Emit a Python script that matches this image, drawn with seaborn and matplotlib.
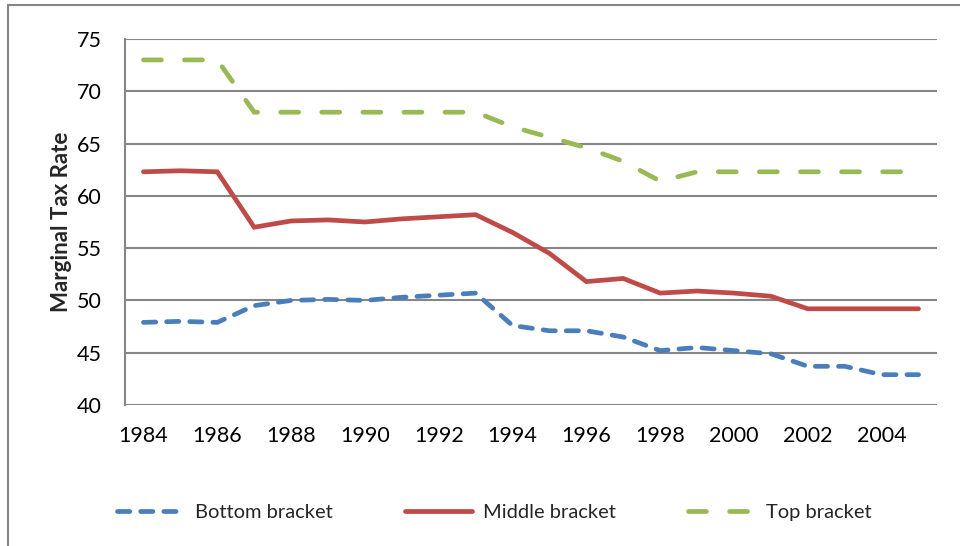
import matplotlib
matplotlib.use("Agg")
import matplotlib.pyplot as plt
import seaborn as sns
import pandas as pd
from matplotlib.patches import Rectangle
from matplotlib.lines import Line2D

years = list(range(1984, 2006))
bottom = [47.9, 48.0, 47.9, 49.5, 50.0, 50.1, 50.0, 50.3, 50.5, 50.7,
          47.6, 47.1, 47.1, 46.5, 45.2, 45.5, 45.2, 44.9, 43.7, 43.7, 42.9, 42.9]
middle = [62.3, 62.4, 62.3, 57.0, 57.6, 57.7, 57.5, 57.8, 58.0, 58.2,
          56.5, 54.5, 51.8, 52.1, 50.7, 50.9, 50.7, 50.4, 49.2, 49.2, 49.2, 49.2]
top = [73.0, 73.0, 73.0, 68.0, 68.0, 68.0, 68.0, 68.0, 68.0, 68.0,
       66.6, 65.6, 64.6, 63.3, 61.4, 62.3, 62.3, 62.3, 62.3, 62.3, 62.3, 62.3]
series_names = ["Bottom bracket", "Middle bracket", "Top bracket"]
yticks = [40, 45, 50, 55, 60, 65, 70, 75]
xticks = list(range(1984, 2005, 2))

df = pd.concat([
    pd.DataFrame({"Year": years, "Rate": vals, "Series": name})
    for name, vals in zip(series_names, [bottom, middle, top])
])

colors = {"Bottom bracket": "#4A7EBB", "Middle bracket": "#BE4B48", "Top bracket": "#98B954"}
dashes = {"Bottom bracket": (2.6, 2.3), "Middle bracket": "", "Top bracket": (3.8, 4.9)}

sns.set_style("white")
plt.rcParams["font.family"] = ["Lato", "DejaVu Sans"]

fig = plt.figure(figsize=(9.6, 5.46), dpi=100)
ax = fig.add_axes([125/960, 1-405/546, (937-125)/960, (405-39)/546])

lw = 3.4
sns.lineplot(data=df, x="Year", y="Rate", hue="Series", style="Series",
             palette=colors, dashes=dashes, linewidth=lw, ax=ax, legend=False)
for ln in ax.lines:
    ln.set_dash_capstyle("round")
    ln.set_solid_capstyle("round")
    ln.set_solid_joinstyle("miter")
    ln.set_dash_joinstyle("miter")

ax.set_xlim(1983.5, 2005.5)
ax.set_ylim(40, 75)
ax.set_yticks(yticks)
ax.set_xticks(xticks)
ax.set_xticklabels([str(x) for x in xticks])
ax.set_yticklabels([str(y) for y in yticks])
ax.tick_params(axis="both", length=0, labelsize=15.5, colors="black")
ax.tick_params(axis="y", pad=17)
ax.tick_params(axis="x", pad=15)
ax.yaxis.grid(True, color="#868686", linewidth=1.5)
ax.set_axisbelow(True)
for s in ["top", "right", "bottom"]:
    ax.spines[s].set_visible(False)
ax.spines["left"].set_color("#868686")
ax.spines["left"].set_linewidth(1.5)
ax.set_xlabel("")
ax.set_ylabel("Marginal Tax Rate", fontsize=16, fontweight="bold", labelpad=3)

handles = [
    Line2D([0], [0], color=colors["Bottom bracket"], linewidth=lw,
           dashes=dashes["Bottom bracket"], dash_capstyle="round"),
    Line2D([0], [0], color=colors["Middle bracket"], linewidth=lw,
           solid_capstyle="round"),
    Line2D([0], [0], color=colors["Top bracket"], linewidth=lw,
           dashes=dashes["Top bracket"], dash_capstyle="round"),
]
fig.legend(handles, series_names, loc="center", bbox_to_anchor=(0.515, 1-512/546),
           ncol=3, frameon=False, fontsize=14.5, handlelength=3.3,
           columnspacing=3.6, handletextpad=0.55)

fig.add_artist(Rectangle((8/960, -0.1), 1.2, 1-5/546+0.1, transform=fig.transFigure,
                         fill=False, edgecolor="#868686", linewidth=1.5))

fig.savefig("out.png", dpi=100)
